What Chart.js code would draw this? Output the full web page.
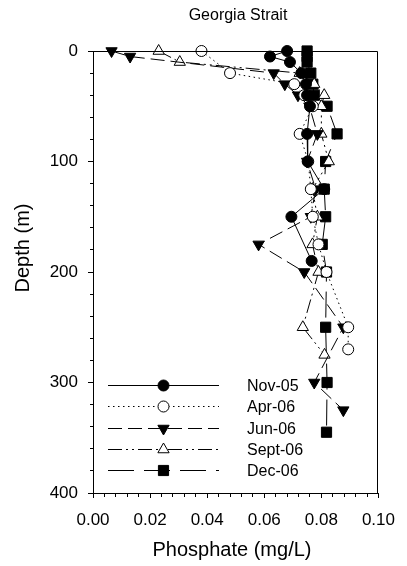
<!DOCTYPE html>
<html>
<head>
<meta charset="utf-8">
<script src="https://cdn.jsdelivr.net/npm/chart.js@4.4.0/dist/chart.umd.min.js"></script>
<style>
  html, body { margin: 0; padding: 0; background: #fff; }
</style>
</head>
<body>
<canvas id="myChart" width="407" height="566"></canvas>
<script>
// depth (m) and phosphate (mg/L)
const depthNov05 = [0, 5, 10, 20, 30, 40, 50, 75, 100, 125, 150, 190];
const phosNov05 = [0.068, 0.062, 0.069, 0.073, 0.0746, 0.075, 0.076, 0.075, 0.0752, 0.081, 0.0695, 0.0766];

const depthApr06 = [0, 20, 30, 40, 50, 75, 100, 125, 150, 175, 200, 250, 270];
const phosApr06 = [0.038, 0.048, 0.0705, 0.074, 0.077, 0.0724, 0.0754, 0.0763, 0.077, 0.079, 0.0818, 0.0894, 0.0894];

const depthJun06 = [0, 5, 20, 30, 40, 50, 75, 100, 125, 150, 175, 200, 250, 300, 325];
const phosJun06 = [0.0065, 0.013, 0.0633, 0.0672, 0.0718, 0.0758, 0.0786, 0.075, 0.078, 0.0763, 0.058, 0.074, 0.0877, 0.0775, 0.0877];

const depthSep06 = [0, 10, 20, 30, 40, 50, 75, 100, 125, 150, 175, 200, 250, 275];
const phosSep06 = [0.023, 0.0304, 0.0724, 0.0775, 0.081, 0.08, 0.08, 0.0826, 0.0769, 0.0786, 0.0769, 0.079, 0.0735, 0.0811];

const depthDec06 = [0, 5, 10, 20, 30, 40, 50, 75, 100, 125, 150, 175, 200, 250, 300, 345];
const phosDec06 = [0.075, 0.075, 0.075, 0.0763, 0.077, 0.0775, 0.082, 0.0855, 0.0815, 0.081, 0.0815, 0.0803, 0.0818, 0.0815, 0.082, 0.0818];

const seriesNames = ["Nov-05", "Apr-06", "Jun-06", "Sept-06", "Dec-06"];
const xTickLabels = ["0.00", "0.02", "0.04", "0.06", "0.08", "0.10"];
const yTickLabels = [0, 100, 200, 300, 400];

const FONT = "'Liberation Sans', Arial, sans-serif";

function pts(depths, vals) {
  return depths.map((d, i) => ({ x: vals[i], y: d }));
}

const styles = [
  { dash: [], point: "circle", r: 5.5, rot: 0, fill: "#000" },
  { dash: [1.5, 3.5], point: "circle", r: 5.5, rot: 0, fill: "#fff" },
  { dash: [14, 6], point: "triangle", r: 6.5, rot: 180, fill: "#000" },
  { dash: [14, 4, 2, 4, 2, 4], point: "triangle", r: 6.5, rot: 0, fill: "#fff" },
  { dash: [26, 10], point: "rect", r: 7.2, rot: 0, fill: "#000" },
];

const seriesData = [
  pts(depthNov05, phosNov05),
  pts(depthApr06, phosApr06),
  pts(depthJun06, phosJun06),
  pts(depthSep06, phosSep06),
  pts(depthDec06, phosDec06),
];

const datasets = seriesNames.map((name, i) => ({
  label: name,
  data: seriesData[i],
  showLine: true,
  borderColor: "#000",
  borderWidth: 1,
  borderDash: styles[i].dash,
  pointStyle: styles[i].point,
  pointRadius: styles[i].r,
  pointRotation: styles[i].rot,
  pointBackgroundColor: styles[i].fill,
  pointBorderColor: "#000",
  pointBorderWidth: 1,
  tension: 0,
  fill: false,
  clip: false,
}));

// frame, titles and the in-plot legend
const extras = {
  id: "extras",
  afterDraw(chart) {
    const c = chart.ctx;
    const a = chart.chartArea;
    c.save();
    c.strokeStyle = "#000";
    c.lineWidth = 1;
    c.setLineDash([]);
    c.beginPath();
    c.moveTo(a.left, Math.round(a.top) + 0.5);
    c.lineTo(Math.round(a.right) - 0.5, Math.round(a.top) + 0.5);
    c.lineTo(Math.round(a.right) - 0.5, a.bottom);
    c.stroke();

    c.fillStyle = "#000";
    c.textAlign = "center";
    c.textBaseline = "alphabetic";
    c.font = "16px " + FONT;
    c.fillText("Georgia Strait", 238, 20);

    c.font = "20px " + FONT;
    c.fillText("Phosphate (mg/L)", 232, 556);

    c.save();
    c.translate(29, 248);
    c.rotate(-Math.PI / 2);
    c.fillText("Depth (m)", 0, 0);
    c.restore();

    // legend
    const lx0 = a.left + 15, lx1 = a.left + 126, mx = a.left + 70.5, tx = a.left + 154;
    c.font = "16px " + FONT;
    c.textAlign = "left";
    c.textBaseline = "middle";
    seriesNames.forEach((name, i) => {
      const y = Math.round(a.top + 334 + i * 21.3) + 0.5;
      const s = styles[i];
      c.setLineDash(s.dash);
      c.beginPath();
      c.moveTo(lx0, y);
      c.lineTo(lx1, y);
      c.stroke();
      c.setLineDash([]);
      c.fillStyle = s.fill;
      Chart.helpers.drawPoint(c, { pointStyle: s.point, radius: s.r, rotation: s.rot, borderWidth: 1 }, mx, y);
      c.fillStyle = "#000";
      c.fillText(name, tx, y + 1);
    });
    c.restore();
  },
};

const ctx = document.getElementById("myChart").getContext("2d");
const myChart = new Chart(ctx, {
  type: "scatter",
  data: { datasets: datasets },
  options: {
    responsive: false,
    animation: false,
    layout: { padding: { top: 51, right: 21, left: 0, bottom: 0 } },
    plugins: {
      legend: { display: false },
      tooltip: { enabled: false },
      title: { display: false },
    },
    scales: {
      x: {
        type: "linear",
        min: 0,
        max: 0.1,
        afterFit: (s) => { s.height = 73; },
        border: { display: true, color: "#000", width: 1 },
        grid: {
          drawOnChartArea: false,
          drawTicks: true,
          tickLength: 5,
          tickColor: "#000",
          tickBorderDash: (c) => (Math.round(c.tick.value * 1000) % 20 === 0 ? [] : [3, 10]),
        },
        ticks: {
          stepSize: 0.004,
          autoSkip: false,
          maxRotation: 0,
          padding: 12,
          color: "#000",
          font: { size: 17, family: FONT },
          callback: (v) => {
            const k = Math.round(v * 1000);
            return k % 20 === 0 ? xTickLabels[k / 20] : "";
          },
        },
      },
      y: {
        type: "linear",
        reverse: true,
        min: 0,
        max: 400,
        afterFit: (s) => { s.width = 93; },
        border: { display: true, color: "#000", width: 1 },
        grid: {
          drawOnChartArea: false,
          drawTicks: true,
          tickLength: 5,
          tickColor: "#000",
          tickBorderDash: (c) => (c.tick.value % 100 === 0 ? [] : [0, 2, 3, 10]),
        },
        ticks: {
          stepSize: 20,
          autoSkip: false,
          padding: 10,
          color: "#000",
          font: { size: 17, family: FONT },
          callback: (v) => (v % 100 === 0 ? String(yTickLabels[v / 100]) : ""),
        },
      },
    },
  },
  plugins: [extras],
});
</script>
</body>
</html>
